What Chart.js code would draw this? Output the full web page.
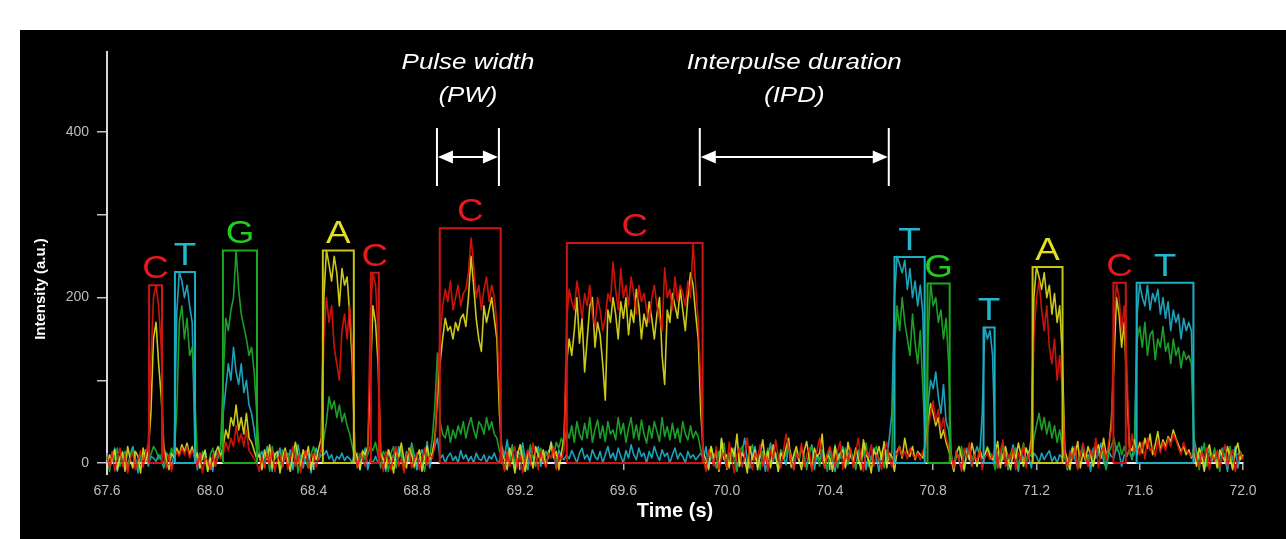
<!DOCTYPE html>
<html><head><meta charset="utf-8">
<script src="https://cdn.jsdelivr.net/npm/chart.js@4/dist/chart.umd.min.js"></script>
<style>
html,body{margin:0;padding:0;background:#fff;}
#wrap{position:absolute;left:20px;top:30px;width:1266px;height:509px;background:#000;}
canvas{display:block;}
</style></head><body>
<div id="wrap"><canvas id="c" width="1266" height="509"></canvas></div>
<script>
// sampling of the traces
const t0 = 67.6, dt = 0.01;
const xTicks = [67.6, 68.0, 68.4, 68.8, 69.2, 69.6, 70.0, 70.4, 70.8, 71.2, 71.6, 72.0];
const yTicks = [0, 100, 200, 300, 400];
const yLabelled = [0, 200, 400];

const red = [
 8, -6, 14, -10, 5, 18, -4, 9, -12, 6,
 12, -8, 4, 15, -5, 10, 25, 120, 200, 215,
 190, 140, 12, -6, 10, -10, 5, 14, 8, 18,
 10, 20, 6, 15, 8, -5, 12, -12, 6, 3,
 -8, 10, -4, 14, 5, 10, 25, 15, 30, 20,
 45, 25, 35, 20, 40, 15, 10, 5, 0, -10,
 8, -6, 12, -3, 16, -10, 4, 10, -5, 14,
 -8, 6, 20, -4, 9, -12, 5, 15, -6, 8,
 12, -5, 6, 18, 150, 200, 170, 190, 140, 120,
 100, 160, 180, 150, 190, 140, 10, -6, 12, 5,
 -4, 15, 180, 230, 215, 160, 8, -10, 14, 3,
 -8, 10, 20, -4, 6, -12, 9, 15, -6, 4,
 12, -8, 5, 18, -3, 10, 6, 20, 100, 150,
 190, 210, 195, 220, 185, 200, 215, 190, 205, 210,
 230, 272, 240, 200, 215, 185, 210, 225, 195, 215,
 200, 170, 90, 5, -10, 14, -4, 8, 20, -6,
 10, -12, 6, 16, -3, 24, 8, -8, 14, 2,
 -5, 12, 6, 20, -8, 10, 4, 15, 170, 210,
 195, 185, 220, 200, 175, 205, 190, 215, 180, 165,
 200, 185, 160, 175, 205, 195, 243, 210, 185, 235,
 200, 215, 190, 225, 205, 180, 215, 195, 205, 185,
 170, 200, 215, 190, 175, 160, 236, 200, 210, 185,
 225, 195, 215, 205, 190, 220, 200, 266, 215, 170,
 100, 5, -10, 15, 8, -4, 20, -8, 6, 12,
 -6, 25, 4, -12, 10, 18, -5, 8, 30, 2,
 -8, 12, 6, 22, -4, 10, -10, 16, 4, 28,
 8, -6, 14, 35, 20, 2, -8, 12, 6, 24,
 -4, 10, 18, -10, 6, 15, 30, 4, -6, 12,
 20, 8, -5, 14, 26, -8, 10, 4, 18, -6,
 12, 30, 6, -10, 15, 8, 22, -4, 10, 5,
 -8, 14, 25, 6, -5, 15, 10, 20, 8, 14,
 5, 18, 10, 6, 12, 4, 15, 20, 40, 60,
 75, 50, 65, 40, 55, 30, 20, 8, -6, 14,
 4, -10, 18, 6, 24, -4, 10, 2, 16, -8,
 6, 12, 4, 8, 20, -6, 14, 28, -4, 10,
 6, 18, -8, 12, 4, 22, -6, 10, 15, 150,
 200, 220, 185, 160, 190, 140, 120, 150, 100, 130,
 90, 10, -6, 14, 4, 20, -8, 10, 24, 6,
 -4, 16, 8, 30, -6, 12, 20, 4, 25, 40,
 170, 217, 200, 160, 190, 120, 10, 35, 15, 20,
 10, 25, 5, 30, 15, 20, 8, 28, 12, 25,
 15, 30, 20, 35, 28, 18, 10, 25, 15, 12,
 8, 20, 6, -5, 14, 4, 18, -8, 10, 2,
 15, -6, 8, 22, -4, 10, 16, -10, 6, 12,
 4
];

const yellow = [
 -4, 10, 2, 16, -8, 6, 12, -10, 20, 4,
 -6, 14, 8, -12, 18, 2, 15, 60, 150, 170,
 120, 80, 20, 4, -8, 12, 6, 18, 10, 22,
 14, 24, 10, 20, 5, 12, -6, 8, 15, -10,
 6, -4, 12, 20, 8, 20, 40, 30, 55, 45,
 70, 40, 55, 35, 60, 30, 25, 15, 5, 10,
 -8, 16, 4, 22, -6, 10, 14, -12, 6, 18,
 2, -10, 12, 25, 8, -4, 16, 6, 20, -8,
 10, 4, 18, 30, 200, 257, 240, 220, 250, 230,
 190, 235, 215, 225, 180, 120, 15, 6, -8, 14,
 10, 20, 100, 190, 170, 120, 12, 4, -6, 16,
 6, -12, 14, 8, 24, 4, -6, 18, 10, -4,
 8, 16, -10, 6, 20, 4, 12, 30, 80, 120,
 150, 175, 160, 165, 150, 170, 160, 175, 180, 165,
 200, 250, 215, 175, 150, 135, 190, 170, 185, 200,
 175, 150, 60, 12, 4, -8, 18, 6, -12, 10,
 22, 4, -10, 14, 8, -6, 20, 10, 2, 16,
 -4, 10, 24, 6, 14, -8, 12, 30, 120, 150,
 130, 160, 200, 145, 175, 110, 150, 190, 200, 140,
 170, 155, 120, 76, 185, 170, 200, 180, 150, 195,
 175, 200, 155, 185, 170, 210, 190, 150, 180, 165,
 195, 175, 150, 180, 200, 130, 95, 185, 170, 205,
 190, 175, 210, 185, 160, 200, 230, 215, 180, 150,
 60, 12, 4, -8, 20, 6, 14, -10, 30, 4,
 10, -6, 18, 8, 35, -4, 12, 6, -12, 20,
 4, 16, -8, 10, 28, 2, 14, -6, 22, 8,
 -10, 12, 6, 18, 30, -4, 10, 20, 4, -8,
 14, 26, 6, -6, 18, 8, 12, 35, -4, 10,
 6, -10, 20, 4, 12, 16, -6, 25, 8, 2,
 18, 6, -8, 28, 10, 4, -12, 16, 8, 20,
 4, 26, -6, 12, 8, -10, 14, 20, 6, 30,
 12, 8, 20, 4, 14, 10, 6, 25, 50, 72,
 60, 45, 55, 30, 40, 25, 15, 4, -10, 12,
 20, 6, -8, 14, 4, 24, 10, -4, 16, 6,
 10, 18, 8, 4, 12, 26, -6, 10, 20, 4,
 -8, 14, 6, 24, 10, -4, 18, 8, 30, 200,
 237, 225, 210, 230, 200, 215, 180, 205, 170, 190,
 130, 15, 4, -8, 18, 10, 26, -6, 12, 4,
 20, 8, -4, 14, 22, 6, 30, 10, 18, 50,
 120, 200, 180, 140, 170, 90, 20, 15, 28, 10,
 25, 12, 30, 18, 35, 10, 22, 38, 15, 28,
 20, 32, 26, 40, 30, 22, 14, 20, 10, 16,
 6, 12, -4, 18, 8, -10, 14, 22, 4, 10,
 -6, 16, 8, 2, 20, 6, -8, 14, 24, 4,
 10
];

const green = [
 6, -10, 12, 4, 18, -4, 8, 14, -6, 10,
 16, 2, -8, 10, 5, 14, 8, 10, 20, 15,
 5, 10, -4, 12, 6, 18, 10, 60, 170, 190,
 150, 175, 130, 140, 80, 8, -6, 14, 4, -10,
 10, 18, -4, 8, 20, 100, 175, 160, 185, 200,
 257, 210, 180, 165, 150, 130, 140, 110, 60, 12,
 -6, 8, 14, -10, 20, 4, 10, -8, 16, 6,
 12, -4, 8, 18, -12, 6, 14, 2, -6, 10,
 20, 4, 8, 15, 30, 50, 80, 65, 75, 55,
 70, 50, 60, 45, 35, 20, 6, 12, -8, 16,
 4, 10, 20, 15, 25, 10, -6, 14, 8, -10,
 12, 20, -4, 6, 16, -8, 10, 4, 22, -6,
 8, 14, 2, -10, 12, 6, 30, 70, 133, 50,
 35, 30, 45, 25, 40, 30, 45, 35, 50, 30,
 45, 55, 40, 30, 50, 45, 35, 55, 40, 50,
 35, 30, 15, 6, -8, 14, 2, 20, -6, 10,
 4, 16, -10, 8, 22, 6, -4, 12, 18, 2,
 10, 14, 20, 8, 25, 18, 30, 22, 40, 30,
 45, 25, 50, 35, 28, 48, 30, 55, 25, 40,
 52, 30, 45, 26, 50, 35, 40, 28, 55, 35,
 48, 25, 42, 55, 30, 46, 28, 52, 35, 24,
 45, 30, 50, 38, 26, 55, 32, 44, 28, 48,
 30, 42, 25, 50, 35, 28, 45, 30, 38, 32,
 15, 6, -8, 12, 20, 4, -6, 14, 8, 24,
 -4, 10, 16, 2, -10, 12, 20, 6, -6, 14,
 22, 4, 10, -8, 14, 6, 18, -4, 8, 12,
 -10, 16, 4, 10, 24, -6, 8, 14, 2, 18,
 6, -8, 12, 20, 4, 10, -4, 16, 8, -10,
 14, 4, 22, -6, 10, 6, 18, -2, 12, 8,
 -8, 16, 4, 10, 24, -4, 6, 14, 20, 2,
 10, -6, 16, 4, 12, 140, 190, 160, 200, 170,
 150, 130, 180, 145, 120, 160, 90, 20, 150, 217,
 190, 200, 170, 185, 150, 175, 120, 10, -6, 14,
 6, 20, -10, 8, 16, 4, 12, -4, 18, 6,
 10, 20, 12, 8, -8, 14, 4, 22, 10, -6,
 12, 6, 18, -4, 10, 24, 2, 14, 8, 30,
 45, 60, 40, 55, 35, 50, 30, 45, 25, 40,
 20, 6, -8, 14, 4, 18, -6, 10, 22, 8,
 2, 14, -4, 20, 10, 6, 16, -8, 12, 20,
 30, 15, 25, 10, 20, 8, 16, 6, 12, 150,
 165, 140, 170, 130, 155, 160, 125, 150, 140, 165,
 135, 145, 120, 150, 130, 140, 115, 135, 125, 130,
 120, 20, 14, -8, 10, 24, -4, 12, 6, 18,
 4, -10, 16, 8, 2, 20, -6, 12, 10, 14,
 6
];

const cyan = [
 12, -6, 4, 18, -10, 8, 14, 2, -8, 10,
 20, 6, -12, 10, 4, 16, -4, 8, 6, 2,
 10, 4, -6, 12, 8, -4, 10, 180, 231, 220,
 200, 215, 190, 170, 25, -8, 12, 4, 16, -6,
 8, -10, 14, 6, 20, 60, 90, 120, 100, 140,
 110, 95, 120, 85, 100, 70, 60, 40, 15, 8,
 14, -6, 20, 4, -10, 12, 6, 18, -4, 10,
 2, 16, -8, 8, 22, 4, -6, 12, 10, -12,
 6, 18, 4, 10, 10, 15, 5, 10, 0, 8,
 5, 12, 3, 8, 5, 0, 14, -6, 10, 4,
 18, -8, 5, 0, 8, 0, 12, 6, -10, 16,
 4, 10, -6, 20, 8, -4, 14, 2, 24, 10,
 -8, 6, 16, 4, 26, -6, 12, 20, 30, 5,
 10, 0, 8, 12, 3, 8, 0, 15, 5, 10,
 2, 8, 0, 12, 5, 3, 10, 0, 8, 5,
 12, 3, 0, 20, 8, 28, 4, 22, -6, 14,
 10, 24, 4, -8, 18, 6, 12, 20, -4, 8,
 14, 6, 26, 10, -6, 16, 8, 4, 10, 5,
 15, 8, 0, 12, 18, 5, 10, 2, 16, 8,
 4, 14, 0, 10, 20, 6, 12, 3, 18, 8,
 0, 15, 6, 22, 10, 4, 18, 8, 12, 0,
 14, 6, 20, 10, 3, 16, 8, 12, 0, 10,
 18, 5, 12, 8, 0, 14, 6, 10, 4, 8,
 12, 4, 20, -6, 10, 2, 16, -10, 28, 6,
 -4, 12, 8, 18, -8, 6, 14, 30, 4, -6,
 10, 20, -4, 8, 14, -10, 6, 24, 2, 12,
 -6, 16, 8, -2, 20, 10, -8, 14, 4, 18,
 6, -4, 12, 22, -8, 10, 4, 16, -6, 8,
 18, 2, -10, 12, 6, 20, -4, 10, 16, 4,
 -6, 14, 8, 24, -8, 12, 4, 18, 6, -10,
 12, 20, 4, 30, 60, 200, 250, 240, 230, 245,
 210, 235, 200, 220, 190, 215, 180, 40, 70, 100,
 90, 110, 80, 60, 95, 50, 40, 10, -6, 14,
 4, -8, 12, 18, 6, -4, 10, 20, 8, 60,
 164, 150, 160, 130, 20, -6, 12, 4, 16, -8,
 10, 22, 6, -10, 14, 4, 18, 8, -6, 12,
 8, 0, 12, 4, 10, 15, 2, 8, 0, 10,
 6, 14, -8, 10, 20, 4, -6, 12, 16, 2,
 10, -10, 18, 6, 12, 24, 2, -6, 14, 8,
 6, 20, 12, -4, 10, 8, 16, 4, 30, 180,
 217, 200, 190, 215, 185, 205, 195, 210, 180, 200,
 175, 195, 160, 185, 170, 180, 150, 175, 160, 170,
 160, 30, 14, 4, 20, -8, 10, 16, 2, 12,
 -4, 8, 18, 6, -10, 14, 4, 20, -6, 10,
 8
];

// called pulses: base, start time (s), end time (s), box height (a.u.)
const boxBase  = ['C', 'T', 'G', 'A', 'C', 'C', 'C', 'T', 'G', 'T', 'A', 'C', 'T'];
const boxStart = [67.763, 67.863, 68.049, 68.436, 68.622, 68.889, 69.381, 70.650, 70.778, 70.995, 71.185, 71.498, 71.588];
const boxEnd   = [67.813, 67.941, 68.181, 68.556, 68.653, 69.125, 69.907, 70.767, 70.864, 71.038, 71.301, 71.546, 71.808];
const boxTop   = [215, 231, 257, 257, 230, 284, 266, 249, 217, 164, 237, 218, 218];

// annotation spans (s)
const pwSpan = [68.878, 69.118];
const ipdSpan = [69.896, 70.628];
const arrowLevel = 370, barHigh = 405, barLow = 335;
const textLevels = [476, 437];

// styles
const FONT = '"Liberation Sans", Arial, Helvetica, sans-serif';
const traceColor = { C: 'rgba(232,22,12,0.88)', A: 'rgba(224,222,28,0.9)', G: 'rgba(30,168,40,0.95)', T: 'rgba(30,170,196,0.95)' };
const boxColor = { C: '#cc1616', T: '#1eaec2', G: '#1ea81e', A: '#c8c414' };
const letterColor = { C: '#e81820', T: '#22b8ca', G: '#22cc22', A: '#e2e020' };

function traceData(arr) { return arr.map((v, i) => ({ x: t0 + i * dt, y: v })); }

function boxData(base) {
  const pts = [];
  boxBase.forEach((b, i) => {
    if (b !== base) return;
    const s = boxStart[i], e = boxEnd[i], h = boxTop[i];
    pts.push({x: s, y: 0}, {x: s, y: h}, {x: e, y: h}, {x: e, y: 0}, {x: s, y: 0}, {x: e, y: null});
  });
  return pts;
}

const datasets = [];
['C', 'T', 'G', 'A'].forEach(b => datasets.push({
  label: 'box ' + b, data: boxData(b), borderColor: boxColor[b], borderWidth: 2,
  pointRadius: 0, fill: false, spanGaps: false, clip: false
}));
[['C', red], ['A', yellow], ['G', green], ['T', cyan]].forEach(([b, arr]) => datasets.push({
  label: b, data: traceData(arr), borderColor: traceColor[b], borderWidth: 1.6,
  pointRadius: 0, fill: false, clip: false, borderJoinStyle: 'round'
}));

function stretchedText(ctx, text, x, y, font, color, sx) {
  ctx.save();
  ctx.translate(x, y);
  ctx.scale(sx, 1);
  ctx.font = font;
  ctx.fillStyle = color;
  ctx.textAlign = 'center';
  ctx.textBaseline = 'alphabetic';
  ctx.fillText(text, 0, 0);
  ctx.restore();
}

function drawSpan(ctx, xs, ys) {
  const [x1, x2] = xs;
  const [yMid, yTop, yBot] = ys;
  ctx.save();
  ctx.strokeStyle = '#fff';
  ctx.fillStyle = '#fff';
  ctx.lineWidth = 2;
  ctx.beginPath();
  ctx.moveTo(x1, yTop); ctx.lineTo(x1, yBot);
  ctx.moveTo(x2, yTop); ctx.lineTo(x2, yBot);
  ctx.moveTo(x1 + 10, yMid); ctx.lineTo(x2 - 10, yMid);
  ctx.stroke();
  ctx.beginPath();
  ctx.moveTo(x1 + 1, yMid); ctx.lineTo(x1 + 16, yMid - 6.5); ctx.lineTo(x1 + 16, yMid + 6.5); ctx.closePath();
  ctx.moveTo(x2 - 1, yMid); ctx.lineTo(x2 - 16, yMid - 6.5); ctx.lineTo(x2 - 16, yMid + 6.5); ctx.closePath();
  ctx.fill();
  ctx.restore();
}

const overlay = {
  id: 'overlay',
  afterDraw(chart) {
    const ctx = chart.ctx;
    const xs = chart.scales.x, ys = chart.scales.y;
    // base letters above each pulse box
    boxBase.forEach((b, i) => {
      const cx = xs.getPixelForValue((boxStart[i] + boxEnd[i]) / 2);
      const cy = ys.getPixelForValue(boxTop[i]) - 7;
      stretchedText(ctx, b, cx, cy, '32px ' + FONT, letterColor[b], 1.15);
    });
    // arrows
    const yv = [ys.getPixelForValue(arrowLevel), ys.getPixelForValue(barHigh), ys.getPixelForValue(barLow)];
    const pw = pwSpan.map(v => xs.getPixelForValue(v));
    const ipd = ipdSpan.map(v => xs.getPixelForValue(v));
    drawSpan(ctx, pw, yv);
    drawSpan(ctx, ipd, yv);
    const f = 'italic 22px ' + FONT;
    stretchedText(ctx, 'Pulse width', (pw[0] + pw[1]) / 2, ys.getPixelForValue(textLevels[0]), f, '#fff', 1.18);
    stretchedText(ctx, '(PW)', (pw[0] + pw[1]) / 2, ys.getPixelForValue(textLevels[1]), f, '#fff', 1.18);
    stretchedText(ctx, 'Interpulse duration', (ipd[0] + ipd[1]) / 2, ys.getPixelForValue(textLevels[0]), f, '#fff', 1.18);
    stretchedText(ctx, '(IPD)', (ipd[0] + ipd[1]) / 2, ys.getPixelForValue(textLevels[1]), f, '#fff', 1.18);
    // y-axis line continues a little below zero
    const ax = chart.chartArea.left;
    ctx.save();
    ctx.strokeStyle = '#d8d8d8';
    ctx.lineWidth = 2;
    ctx.beginPath();
    ctx.moveTo(ax, chart.chartArea.bottom);
    ctx.lineTo(ax, chart.chartArea.bottom + 12);
    ctx.stroke();
    // y-axis title
    ctx.translate(21, 259);
    ctx.rotate(-Math.PI / 2);
    ctx.font = 'bold 15px ' + FONT;
    ctx.fillStyle = '#fff';
    ctx.textAlign = 'center';
    ctx.textBaseline = 'middle';
    ctx.fillText('Intensity (a.u.)', 0, 0);
    ctx.restore();
  }
};

new Chart(document.getElementById('c'), {
  type: 'line',
  data: { datasets },
  options: {
    responsive: false,
    animation: false,
    devicePixelRatio: 1,
    layout: { padding: { left: 0, right: 43, top: 22, bottom: 0 } },
    plugins: { legend: { display: false }, tooltip: { enabled: false } },
    elements: { point: { radius: 0 }, line: { tension: 0 } },
    scales: {
      x: {
        type: 'linear', min: xTicks[0], max: xTicks[xTicks.length - 1], z: 1,
        afterBuildTicks: s => { s.ticks = xTicks.map(v => ({ value: v })); },
        afterFit: s => { s.height = 76; },
        border: { display: true, color: '#ececec', width: 2 },
        grid: { drawOnChartArea: false, drawTicks: true, tickLength: 7, color: '#b4b4b4', lineWidth: 1.5 },
        ticks: { color: '#bdbdbd', font: { family: FONT, size: 14 }, padding: 13, maxRotation: 0, autoSkip: false,
                 callback: v => Number(v).toFixed(1) },
        title: { display: true, text: 'Time (s)', color: '#fff', font: { family: FONT, size: 20, weight: 'bold' },
                 padding: { top: 0, bottom: 16 } }
      },
      y: {
        type: 'linear', min: 0, max: 497, z: 1,
        afterBuildTicks: s => { s.ticks = yTicks.map(v => ({ value: v })); },
        afterFit: s => { s.width = 87; },
        border: { display: true, color: '#d8d8d8', width: 2 },
        grid: { drawOnChartArea: false, drawTicks: true, tickLength: 10, color: '#c4c4c4', lineWidth: 1.5 },
        ticks: { color: '#bdbdbd', font: { family: FONT, size: 14 }, padding: 8,
                 callback: v => yLabelled.includes(v) ? String(v) : '' }
      }
    }
  },
  plugins: [overlay]
});
</script>
</body></html>
